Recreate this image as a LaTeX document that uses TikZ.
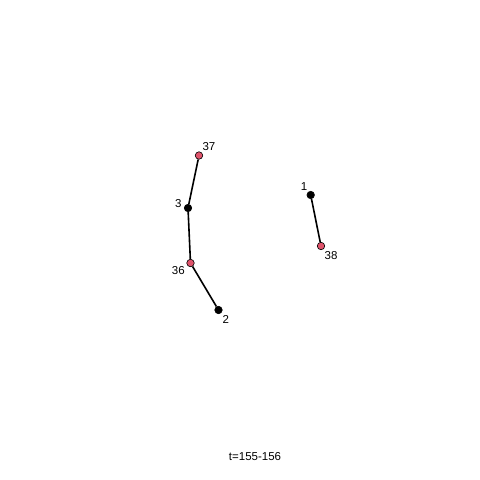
\documentclass[tikz,border=0pt]{standalone}
\usepackage{fontspec}
\setmainfont{Liberation Sans}
\definecolor{vred}{HTML}{DF536B}
\begin{document}
\begin{tikzpicture}[x=1pt,y=-1pt,
  vtx/.style={circle,draw=black,line width=0.6pt,inner sep=0pt,minimum size=7.5pt},
  blk/.style={vtx,fill=black},
  rd/.style={vtx,fill=vred},
  lab/.style={font=\fontsize{11.5}{13}\selectfont,inner sep=0pt},
  edge/.style={line width=1.6pt}]
\fill[white] (0,0) rectangle (480,480);
\useasboundingbox (0,0) rectangle (480,480);
\node[rd] (n37) at (199,155.5) {};
\node[blk] (n3) at (188,208) {};
\node[rd] (n36) at (190.5,263) {};
\node[blk] (n2) at (218.5,310) {};
\node[blk] (n1) at (310.7,195) {};
\node[rd] (n38) at (321,246) {};
\draw[edge] (n37) -- (n3);
\draw[edge] (n3) -- (n36);
\draw[edge] (n36) -- (n2);
\draw[edge] (n1) -- (n38);
\node[lab] (l37) at (209,147) {37};
\node[lab] (l3) at (178.3,203.5) {3};
\node[lab] (l36) at (178.3,270.5) {36};
\node[lab] (l2) at (225.7,319.5) {2};
\node[lab] (l1) at (304,187) {1};
\node[lab] (l38) at (331,256) {38};
\node[lab] (cap) at (255,457) {t=155-156};
\end{tikzpicture}
\end{document}
